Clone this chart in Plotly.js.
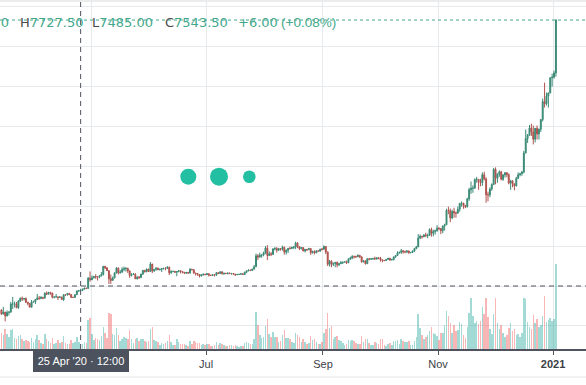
<!DOCTYPE html>
<html><head><meta charset="utf-8">
<script src="https://cdn.plot.ly/plotly-3.0.1.min.js"></script>
<style>html,body{margin:0;padding:0;background:#fff;overflow:hidden}#chart{width:586px;height:385px}</style>
</head><body><div id="chart"></div>
<script>
// ---- data: daily candles, first bar 2020-03-14 ----
const startYear = 2020, startMonth = 2, startDate = 14; // 14 Mar 2020 (month 0-based)
const firstOpen = 5600;
const close = [
 5200,5390,5000,5350,5400,6200,6200,6200,5830,6480,6770,6700,6750,6380,6250,5880,6400,6420,
 6640,6800,6740,6860,6780,7280,7180,7370,7300,6870,6890,6910,6860,6880,6640,7120,7100,7260,7130,6850,6850,7130,7500,7537.5,7543.5,7700,7790,7760,8780,8620,
 8830,8970,8900,8890,9030,9150,9980,9810,9540,8720,8560,8800,9300,9800,9320,9380,9670,9730,9770,9510,9060,9170,9180,8720,8900,8840,9200,9570,9430,9700,9450,
 10200,9520,9670,9790,9620,9670,9750,9780,9770,9880,9320,9470,9480,9390,9450,9530,9460,9380,9300,9360,9290,9690,9630,9300,9250,9160,9010,9120,9190,9140,
 9230,9090,9060,9130,9080,9340,9250,9430,9240,9290,9240,9300,9240,9260,9200,9140,9160,9180,9230,9160,9390,9530,9600,9550,9700,9930,11030,10900,11100,11100,11330,
 11800,11060,11230,11180,11720,11760,11590,11750,11680,11880,11400,11580,11780,11770,11860,11910,12300,11970,11750,11860,11520,11680,11650,11750,11330,11460,11320,11530,11480,11710,11680,
 11970,11420,10180,10480,10170,10260,10370,10130,10230,10350,10400,10440,10330,10680,10790,10950,10940,10930,11080,10920,10420,10530,10240,10740,10690,10720,10770,10700,10840,10780,
 10620,10570,10550,10670,10790,10600,10670,10920,11060,11300,11380,11540,11430,11430,11510,11330,11370,11520,11760,11920,12820,12990,12940,13130,13040,13070,13650,13280,13460,13560,13800,
 13760,13550,14030,14150,15590,15580,14830,15480,15330,15300,15700,16280,16320,16070,15960,16730,17660,17800,17820,18680,18700,18420,18370,19170,18730,17150,17140,17720,18180,19700,
 18800,19220,19450,18700,19150,19360,19170,18330,18550,18250,18040,18800,19170,19270,19430,21350,22800,23130,23850,23450,22730,23820,23250,23730,24700,26500,26280,27050,27370,28880,28950,
 29370,34680
];
const high = [
 5650,5900,5400,5550,5450,6400,6900,6450,6400,6600,6850,6950,6800,6850,6400,6270,6600,6520,
 6700,7200,7000,6990,6880,7360,7450,7400,7380,7300,6950,7200,6920,6990,6930,7200,7150,7300,7270,7200,6930,7160,7550,7610,7727.5,7720,7800,7800,8900,9460,
 9060,9000,9180,8950,9100,9400,9990,10000,9900,9560,9150,8950,9380,9900,9850,9590,9880,9950,9890,9830,9560,9270,9300,9300,8970,9010,9220,9600,9600,9740,9720,
 10400,10230,9690,9880,9850,9740,9800,9800,9880,9990,9950,9560,9490,9490,9500,9580,9560,9480,9400,9390,9420,9780,9700,9670,9320,9280,9200,9190,9230,9200,
 9300,9260,9120,9180,9140,9370,9350,9460,9440,9310,9300,9340,9350,9280,9280,9210,9180,9200,9250,9240,9430,9560,9650,9640,9730,10100,11250,11200,11340,11170,11450,
 12000,12100,11480,11400,11800,11900,11900,11800,11800,12050,11950,11680,11800,11950,11950,11990,12450,12400,12000,11890,11880,11690,11700,11830,11780,11550,11580,11550,11570,11720,11800,
 12070,11970,11450,10620,10580,10350,10400,10450,10330,10500,10420,10500,10550,10800,10950,11100,11050,11040,11180,11080,10980,10570,10540,10770,10770,10800,10800,10950,10860,10850,
 10920,10650,10600,10690,10800,10800,10690,10950,11100,11480,11440,11720,11560,11550,11600,11560,11400,11540,11820,12020,13200,13170,13030,13160,13350,13250,13780,13850,13650,13650,14100,
 13900,13820,14050,14250,15750,15960,15770,15650,15850,15480,15970,16350,16480,16320,16150,16850,17850,18480,18100,18800,18950,18700,18760,19400,19470,18900,17450,17900,18300,19850,
 19900,19300,19600,19550,19200,19420,19420,19300,18650,18600,18280,18950,19400,19350,19550,21550,23700,23250,24150,24280,24080,23850,24100,23800,24750,26800,28400,27400,27400,28950,29300,
 29600,34750
];
const low = [
 5100,5150,4450,4950,5050,5300,5700,5850,5770,5700,6400,6500,6550,6300,6050,5860,5860,6330,
 6200,6580,6620,6680,6680,6780,7100,7150,7120,6750,6770,6860,6600,6800,6620,6500,7000,7060,7080,6800,6800,6830,7090,7400,7485,7500,7640,7680,7740,8430,
 8630,8750,8720,8550,8780,8950,9050,9700,9500,8200,8200,8550,8800,9260,9150,9240,9350,9480,9450,9300,8820,8950,9100,8700,8650,8700,8830,9100,9350,9380,9400,
 9420,9300,9410,9530,9600,9570,9400,9640,9580,9700,9100,9230,9380,9300,8980,9370,9260,9280,9200,9200,9270,9280,9580,9230,9050,9030,8850,8950,9050,9080,
 9100,8950,9050,9050,8970,9060,9210,9230,9150,9120,9200,9170,9200,9130,9160,9000,9090,9130,9120,9140,9150,9290,9470,9500,9550,9650,9930,10600,10850,10840,10980,
 11200,10600,11000,11000,11100,11570,11350,11530,11550,11550,11150,11150,11300,11640,11700,11700,11700,11800,11600,11670,11480,11370,11500,11600,11120,11260,11170,11300,11450,11460,11560,
 11660,11200,10000,9950,9880,10000,9880,9870,10000,10220,10200,10350,10200,10300,10630,10700,10750,10820,10900,10800,10350,10370,10150,10200,10580,10650,10620,10650,10650,10680,
 10450,10380,10500,10520,10620,10540,10580,10550,10830,11050,11270,11220,11250,11280,11300,11230,11300,11350,11420,11690,11900,12700,12750,12900,12900,12800,13070,12950,12980,13150,13430,
 13600,13200,13300,13550,14100,15200,14400,14700,14850,14850,15270,15450,15950,15750,15800,15870,16550,17250,17350,17750,18350,17650,18000,18050,18600,16350,16500,16900,17550,18150,
 18200,18350,18950,18600,18550,18880,18900,18200,17650,17900,17600,18000,18750,19000,19060,19300,21300,22350,23050,23050,22200,22400,22700,22700,23450,24500,25900,26100,25900,27340,28000,
 28800,29000
];
// volume, $bn
const volume = [
 1.6,1.4,2.0,1.5,1.2,1.9,2.0,1.1,1.0,1.3,1.4,1.0,0.8,0.9,0.8,0.7,1.1,0.7,
 1.0,1.4,0.9,0.6,0.5,1.5,1.0,0.8,0.6,1.1,0.5,0.6,0.9,0.6,0.7,1.3,0.6,0.5,0.5,0.9,0.6,0.7,1.2,0.7,0.5,0.5,0.7,0.6,2.9,3.1,
 1.5,0.9,1.1,1.0,0.9,1.3,2.2,1.6,1.1,3.6,3.5,1.5,1.4,2.1,1.4,0.8,1.0,1.2,1.1,1.0,1.9,1.0,0.6,1.0,1.1,0.8,1.0,1.0,0.8,0.7,0.8,
 2.0,2.2,0.9,0.8,0.7,0.4,0.6,0.5,0.6,0.8,1.4,0.7,0.4,0.4,1.0,0.7,0.5,0.5,0.5,0.4,0.3,0.8,0.5,0.8,0.7,0.6,0.6,0.4,0.5,0.4,
 0.5,0.5,0.3,0.3,0.4,0.7,0.4,0.6,0.5,0.4,0.3,0.3,0.4,0.4,0.3,0.4,0.3,0.2,0.3,0.3,0.6,0.7,0.6,0.5,0.5,1.0,3.7,2.4,1.4,1.1,1.2,
 2.3,3.0,1.5,1.2,1.7,1.2,1.2,0.7,0.8,1.4,1.9,1.1,1.1,1.0,0.7,0.6,1.6,1.4,1.2,0.7,1.0,0.7,0.5,0.6,1.3,0.9,1.0,0.7,0.5,0.5,0.7,
 1.6,2.0,3.6,2.1,2.3,1.0,1.2,1.3,0.9,0.8,0.6,0.4,0.5,0.9,0.8,0.9,0.8,0.6,0.5,0.5,1.3,0.7,1.0,1.0,0.6,0.4,0.4,0.7,0.6,0.5,
 1.0,1.0,0.4,0.3,0.5,0.6,0.4,0.8,0.8,0.9,0.5,1.0,0.8,0.7,0.7,0.8,0.4,0.4,0.8,1.2,3.5,2.1,1.4,1.0,1.2,1.4,1.8,2.2,1.6,1.5,1.3,
 0.9,1.6,1.6,2.4,3.8,3.3,2.6,1.6,2.4,1.8,1.9,2.7,2.5,1.4,1.1,2.2,3.6,5.1,3.3,2.6,2.8,2.5,2.8,4.2,3.5,5.1,3.2,2.0,1.5,3.5,
 5.1,2.6,2.0,2.4,1.6,1.2,1.4,2.1,2.6,1.8,2.0,1.4,1.5,1.2,1.6,5.1,5.0,2.7,2.2,2.0,3.4,2.6,3.0,2.2,2.4,3.3,5.3,2.7,2.9,3.1,2.8,
 3.0,8.5
];
const tickDates = ['2020-05-01','2020-07-01','2020-09-01','2020-11-01','2021-01-01'];
const tickLabels = ['','Jul','Sep','Nov','<b>2021</b>']; // May label sits under the crosshair date box
const crosshairDay = '2020-04-25';
const crosshairPrice = 8000;

// ---- derived ----
const days = close.map((_, i) => new Date(Date.UTC(startYear, startMonth, startDate + i, 12)).toISOString().slice(0,10) + ' 12:00');
const open = close.map((c, i) => i === 0 ? firstOpen : close[i-1]);
const volColors = close.map((c, i) => c >= open[i] ? 'rgba(38,166,154,0.42)' : 'rgba(239,83,80,0.42)');
const ci = days.indexOf(crosshairDay + ' 12:00');
const lastClose = close[close.length - 1];

const PW = 586, PH = 349;
const px = v => v / PW;
const py = v => 1 - v / PH;

const GREEN = '#43a88b', DARK = '#4a4a4a';
const f2 = v => v.toFixed(2);
const chg = close[ci] - open[ci];
const pct = chg / open[ci] * 100;
const legFont = {family: 'DejaVu Sans', size: 13, color: GREEN};
const legY = py(22.5);
function leg(x, anchor, label, value, font) {
  return {xref:'paper', yref:'paper', x: px(x), y: legY, xanchor: anchor, yanchor:'middle', showarrow:false,
    borderpad:0, borderwidth:0, font: font || legFont,
    text: (label ? '<span style="color:' + DARK + '">' + label + '</span>' : '') + value};
}

const candles = {
  type:'candlestick', x: days, open: open, high: high, low: low, close: close, yaxis:'y2',
  increasing:{line:{color:'#3a8a76', width:1}, fillcolor:'#3a8a76'},
  decreasing:{line:{color:'#b0524e', width:1}, fillcolor:'#b0524e'},
  whiskerwidth: 0, hoverinfo:'skip', showlegend:false
};
const vols = {
  type:'bar', x: days, y: volume, yaxis:'y', marker:{color: volColors, line:{width:0}},
  width: 86400000 * 0.8, hoverinfo:'skip', showlegend:false
};

function dot(cx, cy, r) {
  return {type:'circle', xref:'paper', yref:'paper', x0: px(cx - r), x1: px(cx + r), y0: py(cy + r), y1: py(cy - r),
    fillcolor:'#22bfa2', line:{width:0}};
}

const layout = {
  width: 586, height: 385, margin:{l:0, r:0, t:0, b:36, pad:0},
  paper_bgcolor:'#ffffff', plot_bgcolor:'#ffffff', showlegend:false, bargap:0,
  xaxis:{type:'date', range:['2020-03-13 18:00','2021-01-18 11:00'], rangeslider:{visible:false},
    tickmode:'array', tickvals: tickDates, ticktext: tickLabels,
    showgrid:true, gridcolor:'#e6eaed', gridwidth:1, zeroline:false,
    showline:true, linecolor:'#50535e', linewidth:1.5,
    ticks:'outside', ticklen:4, tickcolor:'#50535e', tickwidth:1,
    tickfont:{family:'Liberation Sans, Arial, sans-serif', size:11, color:'#3b3e45'}, fixedrange:true},
  yaxis:{range:[0, 34.9], visible:false, fixedrange:true},
  yaxis2:{overlaying:'y', side:'right', range:[1680, 36690], showgrid:true, gridcolor:'#e6eaed', gridwidth:1,
    tick0:0, dtick:4000, showticklabels:false, ticks:'', zeroline:false, showline:false, fixedrange:true},
  shapes:[
    {type:'rect', xref:'paper', yref:'paper', x0:0, x1:1, y0:py(2), y1:1, fillcolor:'#ececec', line:{width:0}},
    {type:'line', xref:'paper', yref:'y2', x0:0, x1:1, y0:lastClose, y1:lastClose, line:{color:GREEN, width:1, dash:'dot'}},
    {type:'line', xref:'x', yref:'paper', x0: days[ci], x1: days[ci], y0:0, y1:1, line:{color:'#50535e', width:1, dash:'5px,4px'}},
    {type:'line', xref:'paper', yref:'y2', x0:0, x1:1, y0:crosshairPrice, y1:crosshairPrice, line:{color:'#50535e', width:1, dash:'5px,4px'}},
    {type:'line', xref:'paper', yref:'paper', x0:0, x1:1, y0:py(377), y1:py(377), line:{color:'#e3e6ea', width:1}},
    dot(188.3, 176.7, 8), dot(219, 176.7, 9), dot(249.3, 176.7, 6.3)
  ],
  annotations:[
    leg(8.5, 'right', 'O', f2(open[ci])),
    leg(19.5, 'left', 'H', f2(high[ci])),
    leg(91.5, 'left', 'L', f2(low[ci])),
    leg(164.5, 'left', 'C', f2(close[ci])),
    leg(238, 'left', '', (chg >= 0 ? '+' : '') + f2(chg)),
    leg(281, 'left', '', '(' + (pct >= 0 ? '+' : '') + f2(pct) + '%)', {family:'Liberation Sans, Arial', size:13.5, color:GREEN}),
    {xref:'x', yref:'paper', x: days[ci], y: py(360.5), xanchor:'center', yanchor:'middle', showarrow:false,
      text: "25 Apr '20 · 12:00", bgcolor:'#4c525e', borderpad:3, borderwidth:0, width:90, height:16,
      font:{family:'Liberation Sans, Arial, sans-serif', size:11, color:'#ffffff'}}
  ]
};

Plotly.newPlot('chart', [vols, candles], layout, {staticPlot:true, displayModeBar:false});
</script>
</body></html>
